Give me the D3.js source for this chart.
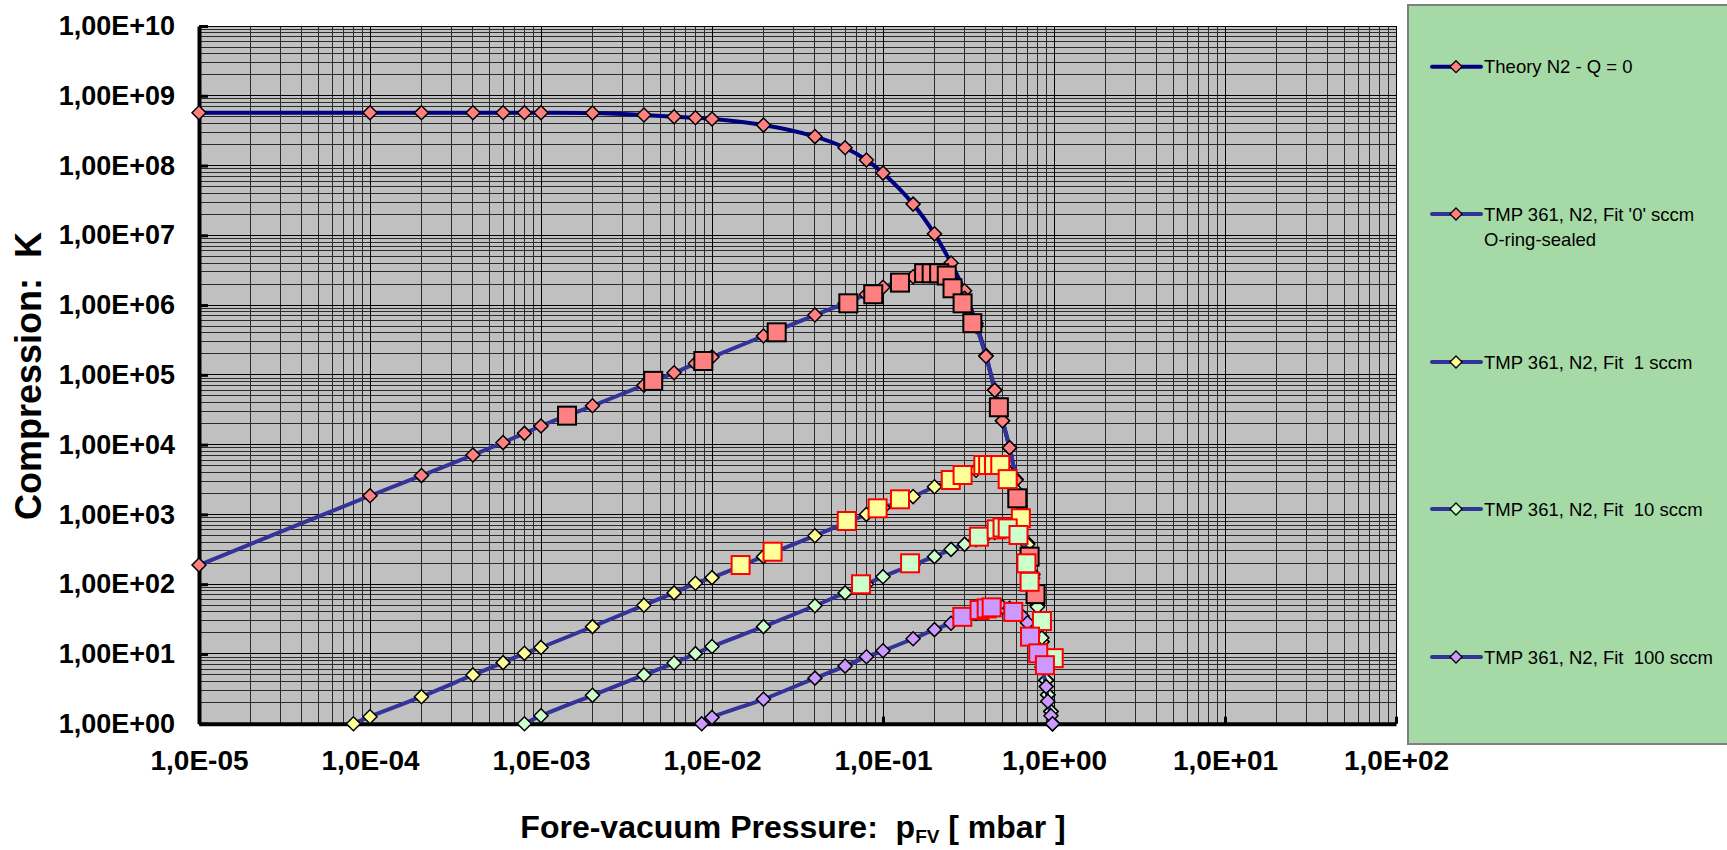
<!DOCTYPE html>
<html>
<head>
<meta charset="utf-8">
<script src="https://cdn.jsdelivr.net/npm/d3@7"></script>
<style>
  body { margin: 0; background: #fff; }
  svg { display: block; }
  text { font-family: "Liberation Sans", Arial, sans-serif; }
</style>
</head>
<body>
<svg id="chart" width="1727" height="850"></svg>
<script>
// ---- Data: compression ratio K versus fore-vacuum pressure (mbar) ----

// Theory N2 - Q = 0
const theoryP = [1e-5, 1e-4, 2e-4, 4e-4, 6e-4, 8e-4, 1e-3, 2e-3, 4e-3, 6e-3, 8e-3, 1e-2,
  2e-2, 4e-2, 6e-2, 8e-2, 0.1, 0.15, 0.2, 0.25, 0.3, 0.35, 0.4, 0.45, 0.5, 0.55,
  0.6, 0.65, 0.7, 0.75, 0.8, 0.85, 0.9, 0.92, 0.96, 0.98];
const theoryK = [5.7e8, 5.7e8, 5.7e8, 5.7e8, 5.7e8, 5.7e8, 5.7e8, 5.65e8, 5.3e8, 5.0e8, 4.85e8, 4.65e8,
  3.8e8, 2.6e8, 1.8e8, 1.2e8, 7.8e7, 2.8e7, 1.05e7, 4.0e6, 1.6e6, 5.5e5, 1.9e5, 6.1e4, 2.2e4, 9.0e3,
  3.2e3, 1.1e3, 390, 140, 50, 15, 4.2, 2.6, 1.5, 1.0];

// TMP 361, N2, Fit '0' sccm, O-ring-sealed
const fit0P = theoryP;
const fit0K = [188, 1850, 3600, 7100, 1.07e4, 1.45e4, 1.85e4, 3.6e4, 7.1e4, 1.07e5, 1.45e5, 1.8e5,
  3.6e5, 7.2e5, 1.06e6, 1.42e6, 1.8e6, 2.55e6, 2.8e6, 2.2e6, 1.25e6, 5.0e5, 1.85e5, 6.0e4, 2.2e4, 9.0e3,
  3.1e3, 1.1e3, 385, 140, 50, 15, 4.2, 2.6, 1.5, 1.0];

// TMP 361, N2, Fit 1 sccm
const fit1P = [8e-5, 1e-4, 2e-4, 4e-4, 6e-4, 8e-4, 1e-3, 2e-3, 4e-3, 6e-3, 8e-3, 1e-2,
  2e-2, 4e-2, 6e-2, 8e-2, 0.1, 0.15, 0.2, 0.25, 0.3, 0.35, 0.4, 0.45, 0.5, 0.55,
  0.6, 0.65, 0.7, 0.75, 0.8, 0.85, 0.9, 0.92, 0.96, 0.98];
const fit1K = [1.0, 1.26, 2.44, 5.0, 7.5, 10.2, 12.4, 24.6, 50, 75, 103, 124,
  248, 495, 750, 1000, 1250, 1800, 2490, 3100, 3700, 4300, 4850, 5100, 4800, 3900,
  2200, 1000, 370, 135, 50, 15, 4.2, 2.6, 1.5, 1.0];

// TMP 361, N2, Fit 10 sccm
const fit10P = [8e-4, 1e-3, 2e-3, 4e-3, 6e-3, 8e-3, 1e-2, 2e-2, 4e-2, 6e-2, 8e-2,
  0.1, 0.15, 0.2, 0.25, 0.3, 0.35, 0.4, 0.45, 0.5, 0.55,
  0.6, 0.65, 0.7, 0.75, 0.8, 0.85, 0.9, 0.92, 0.96, 0.98];
const fit10K = [1.0, 1.3, 2.55, 5.0, 7.4, 10.1, 12.8, 24.6, 49, 75, 100,
  128, 190, 248, 315, 372, 435, 495, 550, 600, 620,
  580, 470, 270, 122, 47.5, 17, 4.2, 2.6, 1.5, 1.0];

// TMP 361, N2, Fit 100 sccm
const fit100P = [8.7e-3, 1e-2, 2e-2, 4e-2, 6e-2, 8e-2,
  0.1, 0.15, 0.2, 0.25, 0.3, 0.35, 0.4, 0.45, 0.5, 0.55,
  0.6, 0.65, 0.7, 0.75, 0.8, 0.85, 0.9, 0.92, 0.96, 0.98];
const fit100K = [1.0, 1.23, 2.24, 4.5, 6.7, 9.1,
  11.1, 16.5, 22.3, 27.5, 33, 38, 43, 46, 47, 45,
  41, 35, 28, 18, 11, 6.5, 3.4, 2.1, 1.3, 1.0];

// Measured points (square markers)
const meas0P = [1.42e-3, 4.53e-3, 8.9e-3, 0.0239, 0.0627, 0.0877, 0.1257, 0.174, 0.1925, 0.213, 0.236,
  0.255, 0.292, 0.333, 0.476, 0.61, 0.72, 0.78];
const meas0K = [2.6e4, 8.2e4, 1.58e5, 4.07e5, 1.06e6, 1.43e6, 2.1e6, 2.86e6, 2.86e6, 2.86e6, 2.65e6,
  1.74e6, 1.06e6, 5.5e5, 3.43e4, 1.7e3, 248, 72];

const meas1P = [0.0147, 0.0226, 0.0614, 0.093, 0.1257, 0.249, 0.292, 0.386, 0.412, 0.446, 0.485, 0.536, 0.64];
const meas1K = [188, 292, 804, 1222, 1645, 3110, 3670, 5100, 5100, 5100, 5100, 3200, 880];

const meas10P = [0.0744, 0.144, 0.364, 0.462, 0.5, 0.536, 0.62, 0.69, 0.72, 0.85, 0.996];
const meas10K = [99.6, 199, 479, 610, 650, 630, 507, 199, 108, 29.6, 8.7];

const meas100P = [0.291, 0.367, 0.404, 0.432, 0.578, 0.724, 0.809, 0.885];
const meas100K = [34, 42.6, 45, 46.5, 40, 17.7, 10.2, 6.9];

// Axis tick labels
const xTickValues = [1e-5, 1e-4, 1e-3, 1e-2, 1e-1, 1e0, 1e1, 1e2];
const xTickLabels = ["1,0E-05", "1,0E-04", "1,0E-03", "1,0E-02", "1,0E-01", "1,0E+00", "1,0E+01", "1,0E+02"];
const yTickValues = [1e0, 1e1, 1e2, 1e3, 1e4, 1e5, 1e6, 1e7, 1e8, 1e9, 1e10];
const yTickLabels = ["1,00E+00", "1,00E+01", "1,00E+02", "1,00E+03", "1,00E+04", "1,00E+05",
  "1,00E+06", "1,00E+07", "1,00E+08", "1,00E+09", "1,00E+10"];

// Legend entries
const legendNames = ["Theory N2 - Q = 0", "TMP 361, N2, Fit '0' sccm", "TMP 361, N2, Fit  1 sccm",
  "TMP 361, N2, Fit  10 sccm", "TMP 361, N2, Fit  100 sccm"];

// ---- Layout ----
const plot = { left: 199, right: 1396, top: 26, bottom: 723.7 };
const svg = d3.select("#chart");

const x = d3.scaleLog().domain([1e-5, 1e2]).range([plot.left, plot.right]);
const y = d3.scaleLog().domain([1, 1e10]).range([plot.bottom, plot.top]);

// Plot area background
svg.append("rect")
  .attr("x", plot.left).attr("y", plot.top)
  .attr("width", plot.right - plot.left).attr("height", plot.bottom - plot.top)
  .attr("fill", "#c0c0c0");

// Grid: minor lines at 2..9 x 10^n, major lines at each decade
const grid = svg.append("g").attr("shape-rendering", "crispEdges");
const minorX = [], minorY = [];
for (let e = -5; e < 2; e++) for (let k = 2; k <= 9; k++) minorX.push(k * Math.pow(10, e));
for (let e = 0; e < 10; e++) for (let k = 2; k <= 9; k++) minorY.push(k * Math.pow(10, e));

grid.selectAll(".vx").data(minorX).join("line")
  .attr("x1", d => x(d)).attr("x2", d => x(d))
  .attr("y1", plot.top).attr("y2", plot.bottom)
  .attr("stroke", "#2b2b2b").attr("stroke-width", 1);
grid.selectAll(".hy").data(minorY).join("line")
  .attr("x1", plot.left).attr("x2", plot.right)
  .attr("y1", d => y(d)).attr("y2", d => y(d))
  .attr("stroke", "#2b2b2b").attr("stroke-width", 1);
grid.selectAll(".vX").data(xTickValues).join("line")
  .attr("x1", d => x(d)).attr("x2", d => x(d))
  .attr("y1", plot.top).attr("y2", plot.bottom)
  .attr("stroke", "#000").attr("stroke-width", 1);
grid.selectAll(".hY").data(yTickValues).join("line")
  .attr("x1", plot.left).attr("x2", plot.right)
  .attr("y1", d => y(d)).attr("y2", d => y(d))
  .attr("stroke", "#000").attr("stroke-width", 1);

// Axes (ticks point into the plot area)
const yAxis = d3.axisLeft(y).tickValues(yTickValues)
  .tickFormat((d, i) => yTickLabels[i]).tickSizeInner(-9).tickSizeOuter(0).tickPadding(24);
const xAxis = d3.axisBottom(x).tickValues(xTickValues)
  .tickFormat((d, i) => xTickLabels[i]).tickSizeInner(-7).tickSizeOuter(0).tickPadding(26);

const gy = svg.append("g").attr("transform", `translate(${plot.left},0)`).call(yAxis);
gy.select(".domain").attr("stroke", "#000").attr("stroke-width", 4);
gy.selectAll(".tick line").attr("stroke", "#000").attr("stroke-width", 3);
gy.selectAll(".tick text").attr("font-size", 27).attr("font-weight", "bold").attr("fill", "#000")
  .attr("font-family", "'Liberation Sans', Arial, sans-serif");

const gx = svg.append("g").attr("transform", `translate(0,${plot.bottom})`).call(xAxis);
gx.select(".domain").attr("stroke", "#000").attr("stroke-width", 4);
gx.selectAll(".tick line").attr("stroke", "#000").attr("stroke-width", 3);
gx.selectAll(".tick text").attr("font-size", 28).attr("font-weight", "bold").attr("fill", "#000")
  .attr("font-family", "'Liberation Sans', Arial, sans-serif");

// Axis titles
svg.append("text")
  .attr("x", 793).attr("y", 838)
  .attr("text-anchor", "middle").attr("font-size", 32).attr("font-weight", "bold")
  .attr("xml:space", "preserve")
  .call(t => {
    t.append("tspan").text("Fore-vacuum Pressure:  p");
    t.append("tspan").attr("font-size", 19).attr("dy", 5).text("FV");
    t.append("tspan").attr("dy", -5).text(" [ mbar ]");
  });

svg.append("text")
  .attr("transform", "translate(41,376) rotate(-90)")
  .attr("text-anchor", "middle").attr("font-size", 36).attr("font-weight", "bold")
  .attr("xml:space", "preserve")
  .text("Compression:  K");

// ---- Series ----
const series = svg.append("g");
const lineGen = d3.line().x(d => x(d[0])).y(d => y(d[1])).curve(d3.curveCatmullRom.alpha(0.5));
const diamond = r => `M0,${-r}L${r},0L0,${r}L${-r},0Z`;

function drawFit(ps, ks, lineColor, fill) {
  const pts = ps.map((p, i) => [p, ks[i]]);
  series.append("path").attr("d", lineGen(pts))
    .attr("fill", "none").attr("stroke", lineColor).attr("stroke-width", 4)
    .attr("stroke-linejoin", "round").attr("stroke-linecap", "round");
  series.append("g").selectAll("path").data(pts).join("path")
    .attr("d", diamond(7))
    .attr("transform", d => `translate(${x(d[0])},${y(d[1])})`)
    .attr("fill", fill).attr("stroke", "#000").attr("stroke-width", 1.5);
}

function drawMeasured(ps, ks, fill, edge) {
  const pts = ps.map((p, i) => [p, ks[i]]);
  series.append("g").selectAll("rect").data(pts).join("rect")
    .attr("x", d => x(d[0]) - 9).attr("y", d => y(d[1]) - 9)
    .attr("width", 18).attr("height", 18)
    .attr("fill", fill).attr("stroke", edge).attr("stroke-width", 2);
}

const navy = "#000080", indigo = "#333399";
const salmon = "#ff8080", paleYellow = "#ffff99", paleGreen = "#ccffcc", lilac = "#cc99ff";

drawFit(theoryP, theoryK, navy, salmon);
drawFit(fit0P, fit0K, indigo, salmon);
drawFit(fit1P, fit1K, indigo, paleYellow);
drawFit(fit10P, fit10K, indigo, paleGreen);
drawFit(fit100P, fit100K, indigo, lilac);

drawMeasured(meas0P, meas0K, salmon, "#000");
drawMeasured(meas1P, meas1K, paleYellow, "#ff0000");
drawMeasured(meas10P, meas10K, paleGreen, "#ff0000");
drawMeasured(meas100P, meas100K, lilac, "#ff0000");

// ---- Legend ----
const legend = svg.append("g");
legend.append("rect")
  .attr("x", 1408).attr("y", 5).attr("width", 340).attr("height", 739)
  .attr("fill", "#a5d9a6").attr("stroke", "#7f7f7f").attr("stroke-width", 2);

const legendY = [66.7, 214, 362, 509, 657];
const legendLine = [navy, indigo, indigo, indigo, indigo];
const legendFill = [salmon, salmon, paleYellow, paleGreen, lilac];

legendNames.forEach((name, i) => {
  const g = legend.append("g").attr("transform", `translate(0,${legendY[i]})`);
  g.append("line").attr("x1", 1432).attr("x2", 1481).attr("y1", 0).attr("y2", 0)
    .attr("stroke", legendLine[i]).attr("stroke-width", 4).attr("stroke-linecap", "round");
  g.append("path").attr("d", diamond(6)).attr("transform", "translate(1456,0)")
    .attr("fill", legendFill[i]).attr("stroke", "#000").attr("stroke-width", 1.3);
  g.append("text").attr("x", 1484).attr("y", 6.5)
    .attr("font-size", 18.5).attr("fill", "#000").attr("xml:space", "preserve").text(name);
  if (i === 1) {
    g.append("text").attr("x", 1484).attr("y", 31.5)
      .attr("font-size", 18.5).attr("fill", "#000").text("O-ring-sealed");
  }
});
</script>
</body>
</html>
